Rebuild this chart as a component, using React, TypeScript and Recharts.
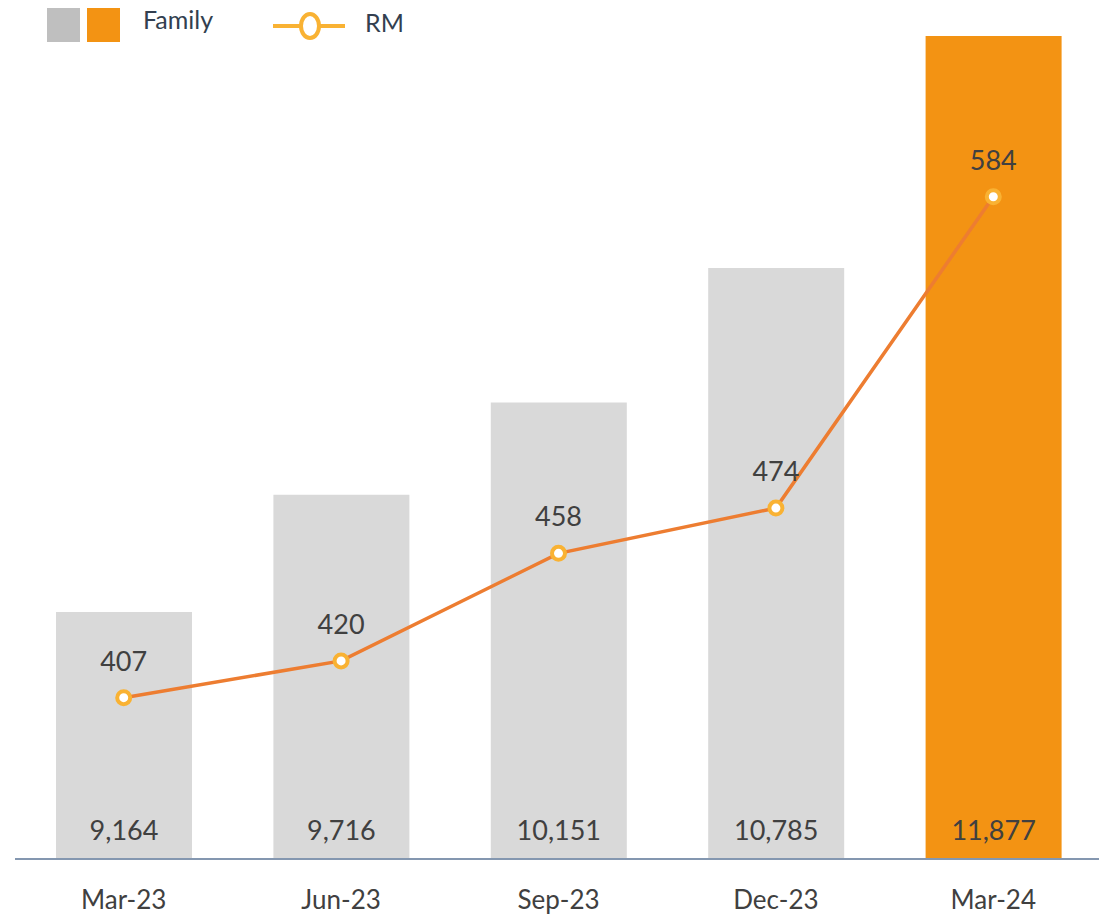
import { ComposedChart, Bar, Line, XAxis, YAxis, Cell, LabelList } from 'recharts';

const periods = ['Mar-23', 'Jun-23', 'Sep-23', 'Dec-23', 'Mar-24'];
const familyValues = [9164, 9716, 10151, 10785, 11877];
const rmValues = [407, 420, 458, 474, 584];

const data = periods.map((p, i) => ({ period: p, family: familyValues[i], rm: rmValues[i] }));

const FONT = 'Lato, "Open Sans", sans-serif';
const TEXT = '#404040';

const XTick = (props: any) => {
  const { x, y, payload } = props;
  return (
    <text x={x} y={y + 42} textAnchor="middle" fill={TEXT} fontSize={26} fontFamily={FONT}>
      {payload.value}
    </text>
  );
};

const BarValue = (props: any) => {
  const { x, y, width, height, value } = props;
  return (
    <text x={x + width / 2} y={y + height - 19} textAnchor="middle" fill={TEXT} fontSize={27} fontFamily={FONT}>
      {Number(value).toLocaleString('en-US')}
    </text>
  );
};

const LineValue = (props: any) => {
  const { x, y, value } = props;
  return (
    <text x={x} y={y - 27} textAnchor="middle" fill={TEXT} fontSize={27} fontFamily={FONT}>
      {value}
    </text>
  );
};

const LegendBox = () => (
  <svg width={430} height={50} style={{ position: 'absolute', left: 0, top: 0, overflow: 'visible' }}>
    <rect x={39} y={-3} width={33} height={37} fill="#BFBFBF" />
    <rect x={79} y={-3} width={33} height={37} fill="#F39313" />
    <text x={135} y={21} fill="#333F50" fontSize={25} fontFamily={FONT}>Family</text>
    <line x1={265} y1={18} x2={337} y2={18} stroke="#F9B233" strokeWidth={4} />
    <ellipse cx={302} cy={18} rx={9} ry={12} fill="#fff" stroke="#F9B233" strokeWidth={4} />
    <text x={357} y={24} fill="#333F50" fontSize={25} fontFamily={FONT}>RM</text>
  </svg>
);

export default function App() {
  return (
    <div style={{ width: 1099, height: 910, position: 'relative' }}>
      <ComposedChart
        width={1099}
        height={910}
        data={data}
        margin={{ top: 2, right: 5, bottom: 29, left: 7 }}
      >
        <XAxis
          dataKey="period"
          axisLine={{ stroke: '#8497B0', strokeWidth: 2 }}
          tickLine={false}
          tick={<XTick />}
          interval={0}
        />
        <YAxis yAxisId="bar" domain={[8000, 12000]} hide />
        <YAxis yAxisId="line" domain={[350, 650]} hide orientation="right" />
        <Bar yAxisId="bar" dataKey="family" barSize={136} isAnimationActive={false}>
          {data.map((d, i) => (
            <Cell key={d.period} fill={i === data.length - 1 ? '#F39313' : '#D9D9D9'} />
          ))}
          <LabelList dataKey="family" content={<BarValue />} />
        </Bar>
        <Line
          yAxisId="line"
          dataKey="rm"
          type="linear"
          stroke="#ED7D31"
          strokeWidth={3.5}
          dot={{ r: 6.5, fill: '#fff', stroke: '#F9B233', strokeWidth: 4 }}
          activeDot={false}
          isAnimationActive={false}
        >
          <LabelList dataKey="rm" content={<LineValue />} />
        </Line>
      </ComposedChart>
      <LegendBox />
    </div>
  );
}
